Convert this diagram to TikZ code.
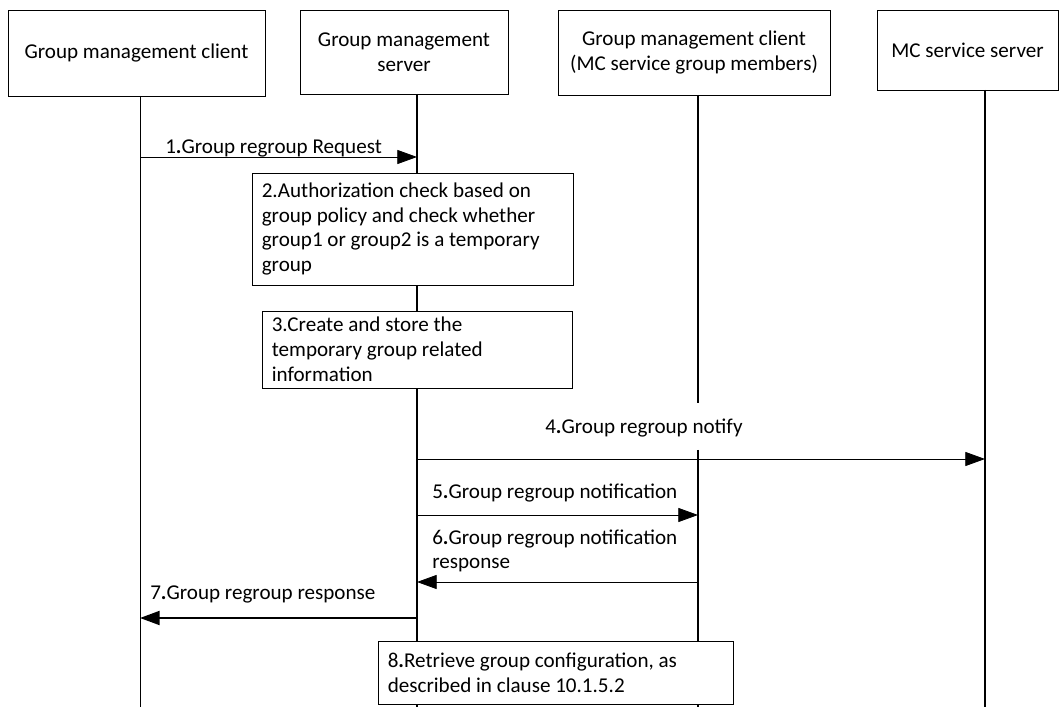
\documentclass[tikz,border=0pt]{standalone}
\usepackage{fontspec}
\setmainfont{Carlito}
\usetikzlibrary{arrows.meta}

\begin{document}
\begin{tikzpicture}[x=0.025cm, y=-0.025cm,
        every node/.style={font=\fontsize{15}{17.6}\selectfont},
        hdr/.style={draw, line width=0.6pt, align=center},
        stepbox/.style={draw, fill=white, line width=0.6pt, align=flush left, inner xsep=7pt},
        life/.style={line width=1.3pt},
        msg/.style={line width=0.6pt, -{Triangle[length=14pt, width=10pt]}},
        lbl/.style={anchor=west, inner sep=0pt, align=flush left}]
        \useasboundingbox (0,0) rectangle (1060,707);
        % cabeceras
        \node[hdr, minimum width=6.425cm, minimum height=2.15cm] (gmc) at (136.5,53) {Group management client};
        \node[hdr, minimum width=5.2cm, minimum height=2.1cm] (gms) at (404,52) {Group management\\server};
        \node[hdr, minimum width=6.8cm, minimum height=2.125cm] (gmm) at (694,52.5) {Group management client\\(MC service group members)};
        \node[hdr, minimum width=4.525cm, minimum height=2cm] (mcs) at (967.5,50) {MC service server};
        % lineas de vida
        \coordinate (l1) at (140,96);
        \coordinate (l2) at (417,94);
        \coordinate (l3) at (698,95);
        \coordinate (l4) at (985,90);
        \draw[line width=0.6pt] (l1) -- (l1 |- 0,707);
        \draw[life] (l2) -- (l2 |- 0,707);
        \draw[life] (l3) -- (l3 |- 0,403);
        \draw[life] (l3 |- 0,450) -- (l3 |- 0,707);
        \draw[life] (l4) -- (l4 |- 0,707);
        % pasos internos
        \node[stepbox, text width=7.533cm, minimum height=2.8cm] (s2) at (412.5,229)
            {2.Authorization check based on\\group policy and check whether\\group1 or group2 is a temporary\\group};
        \node[stepbox, text width=7.258cm, minimum height=1.925cm] (s3) at (417,349.5)
            {3.Create and store the\\temporary group related\\information};
        \node[stepbox, text width=8.383cm, minimum height=1.575cm] (s8) at (555.5,672.5)
            {8\textbf{.}Retrieve group configuration, as\\described in clause 10.1.5.2};
        % mensajes
        \draw[msg] (l1 |- 0,157) -- (l2 |- 0,157);
        \node[lbl] (m1) at (165,148) {1\textbf{.}Group regroup Request};
        \draw[msg] (l2 |- 0,459) -- (l4 |- 0,459);
        \node[lbl] (m4) at (545,428) {4\textbf{.}Group regroup notify};
        \draw[msg] (l2 |- 0,515) -- (l3 |- 0,515);
        \node[lbl] (m5) at (432,493) {5\textbf{.}Group regroup notification};
        \draw[msg] (l3 |- 0,582) -- (l2 |- 0,582);
        \node[lbl] (m6) at (432,551) {6\textbf{.}Group regroup notification\\response};
        \draw[msg, line width=1.3pt] (l2 |- 0,618) -- (l1 |- 0,618);
        \node[lbl] (m7) at (150,594) {7\textbf{.}Group regroup response};
\end{tikzpicture}
\end{document}
